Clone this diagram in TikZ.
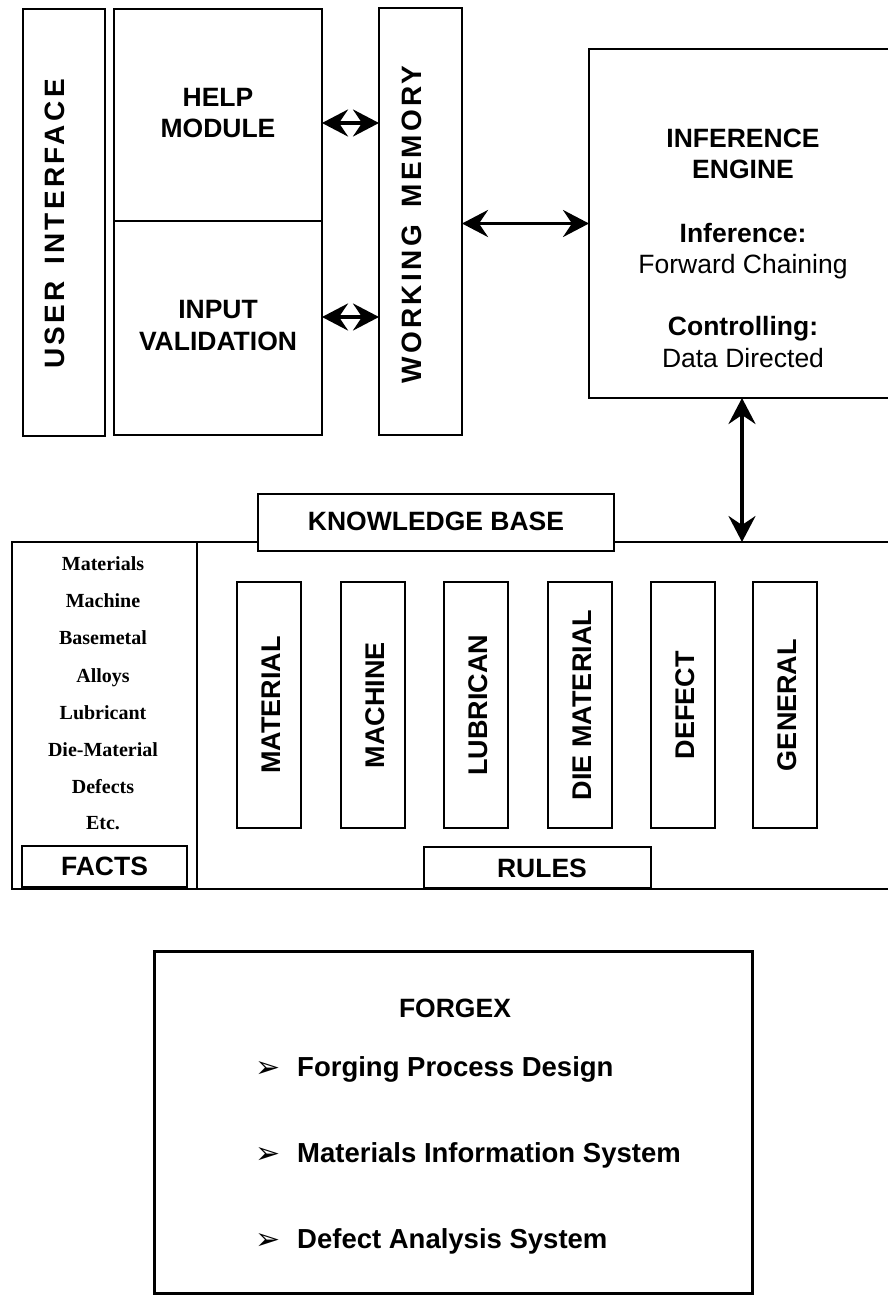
\documentclass[tikz,border=0pt]{standalone}
\usepackage{fontspec}
\setmainfont{Liberation Sans}
\newfontfamily\factfont{Liberation Serif}
\newfontfamily\bulletfont{DejaVu Sans}
\usetikzlibrary{arrows.meta}
\begin{document}
\begin{tikzpicture}[x=1pt,y=-1pt,
  box/.style={draw, line width=1.5pt, inner sep=0pt, outer sep=0pt, fill=white},
  openbox/.style={inner sep=0pt, outer sep=0pt},
  lbl/.style={font=\fontsize{26.5}{31}\selectfont\bfseries, align=center, inner sep=0pt},
  reg/.style={font=\fontsize{26.5}{31}\selectfont, align=center, inner sep=0pt},
  rulelbl/.style={font=\fontsize{27}{31}\selectfont\bfseries, rotate=90, inner sep=0pt},
  spaced/.style={font=\fontsize{28}{31}\selectfont\bfseries\addfontfeature{LetterSpace=12}, rotate=90, inner sep=0pt},
  fact/.style={font=\fontsize{20}{24}\selectfont\factfont\bfseries, anchor=base, inner sep=0pt},
  item/.style={font=\fontsize{27.5}{31}\selectfont\bfseries, anchor=base west, inner sep=0pt},
  bul/.style={font=\fontsize{30}{32}\selectfont\bulletfont, anchor=base west, inner sep=0pt},
  rulebox/.style={box, minimum width=64pt, minimum height=246pt},
  arr/.style={line width=3.5pt, {Stealth[length=26pt,width=27pt,inset=9pt]}-{Stealth[length=26pt,width=27pt,inset=9pt]}},
]
\useasboundingbox (0,0) rectangle (888,1296);
\fill[white] (0,0) rectangle (888,1296);

% ---- top part ----
\node[box, minimum width=82pt, minimum height=427pt] (ui) at (64,222.5) {};
\node[spaced] (uit) at (55,224) {USER\hspace{16pt}INTERFACE};

\node[box, minimum width=208pt, minimum height=212pt] (help) at (218,115) {};
\node[box, minimum width=208pt, minimum height=214pt] (input) at (218,328) {};
\node[lbl, anchor=base] (helpt) at (218,106) {HELP};
\node[lbl, anchor=base] (helpt2) at (218,137) {MODULE};
\node[lbl, anchor=base] (inputt) at (218,318) {INPUT};
\node[lbl, anchor=base] (inputt2) at (218,350) {VALIDATION};

\node[box, minimum width=83pt, minimum height=427pt] (wm) at (420.5,221.5) {};
\node[spaced] (wmt) at (412,224.5) {WORKING\hspace{18pt}MEMORY};

\node[openbox, minimum width=299pt, minimum height=349pt] (ie) at (738.5,223.5) {};
\draw[line width=1.5pt] (ie.north east) -- (ie.north west) -- (ie.south west) -- (ie.south east);
\node[lbl, anchor=base] (iet1) at (743,147) {INFERENCE};
\node[lbl, anchor=base] (iet2) at (743,178) {ENGINE};
\node[lbl, anchor=base] (iet3) at (743,242) {Inference:};
\node[reg, anchor=base] (iet4) at (743,273) {Forward Chaining};
\node[lbl, anchor=base] (iet5) at (743,335) {Controlling:};
\node[reg, anchor=base] (iet6) at (743,367) {Data Directed};

\draw[arr] ([yshift=-8pt]help.east) -- ([yshift=-8pt]help.east -| wm.west);
\draw[arr] ([yshift=11pt]input.east) -- ([yshift=11pt]input.east -| wm.west);
\draw[arr] (wm.east |- ie.west) -- (ie.west);

% ---- knowledge base ----
\node[openbox, minimum width=876pt, minimum height=347pt] (kb) at (450,715.5) {};
\draw[line width=1.5pt] (kb.north east) -- (kb.north west) -- (kb.south west) -- (kb.south east);
\node[box, minimum width=185pt, minimum height=347pt] (facts) at (104.5,715.5) {};
\draw[arr] ([xshift=3.5pt]ie.south) -- ([xshift=3.5pt]ie.south |- kb.north);
\node[box, minimum width=356pt, minimum height=57pt] (kbl) at (436,522.5) {};
\node[lbl] (kblt) at (436,521.5) {KNOWLEDGE BASE};

\node[fact] (f1) at (103,570) {Materials};
\node[fact] (f2) at (103,607) {Machine};
\node[fact] (f3) at (103,644) {Basemetal};
\node[fact] (f4) at (103,682) {Alloys};
\node[fact] (f5) at (103,719) {Lubricant};
\node[fact] (f6) at (103,756) {Die-Material};
\node[fact] (f7) at (103,793) {Defects};
\node[fact] (f8) at (103,829) {Etc.};
\node[box, minimum width=165pt, minimum height=41pt] (factsl) at (104.5,866.5) {};
\node[lbl, anchor=base] (factslt) at (104.5,875) {FACTS};

\node[rulebox] (r1) at (269,705) {};
\node[rulebox] (r2) at (373,705) {};
\node[rulebox] (r3) at (476,705) {};
\node[rulebox] (r4) at (580,705) {};
\node[rulebox] (r5) at (683,705) {};
\node[rulebox] (r6) at (785,705) {};
\node[rulelbl] (r1t) at (271,705) {MATERIAL};
\node[rulelbl] (r2t) at (375,705) {MACHINE};
\node[rulelbl] (r3t) at (478,705) {LUBRICAN};
\node[rulelbl] (r4t) at (582,705) {DIE MATERIAL};
\node[rulelbl] (r5t) at (685,705) {DEFECT};
\node[rulelbl] (r6t) at (787,705) {GENERAL};

\node[box, minimum width=227pt, minimum height=41pt] (rules) at (537.5,867.5) {};
\node[lbl, anchor=base] (rulest) at (542,877) {RULES};

% ---- FORGEX ----
\node[draw, line width=3pt, inner sep=0pt, minimum width=598pt, minimum height=342pt] (fx) at (453,1122) {};
\node[lbl, anchor=base] (fxt) at (455,1017) {FORGEX};
\node[bul] (b1) at (255,1077) {➢};
\node[item] (i1) at (297,1076) {Forging Process Design};
\node[bul] (b2) at (255,1163) {➢};
\node[item] (i2) at (297,1162) {Materials Information System};
\node[bul] (b3) at (255,1249) {➢};
\node[item] (i3) at (297,1248) {Defect Analysis System};
\end{tikzpicture}
\end{document}
